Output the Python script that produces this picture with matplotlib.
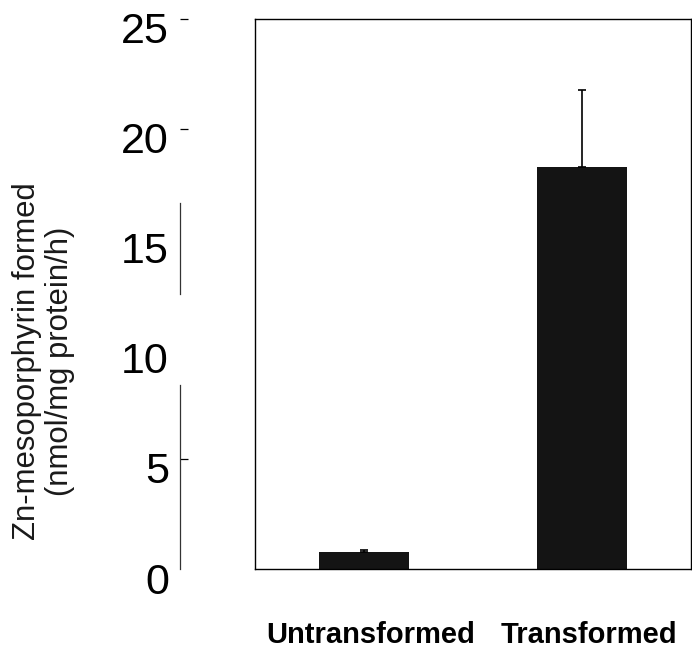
import numpy as np
import matplotlib
matplotlib.use("Agg")
import matplotlib.pyplot as plt
import matplotlib.transforms as mtransforms

# data
groups = ["Untransformed", "Transformed"]
values = [0.75, 18.25]
errors = [0.1, 3.5]
y_ticks = [0, 5, 10, 15, 20, 25]
# pieces of the y axis line that survive in the scan (data units)
axis_pieces = [(0.0, 8.35), (12.5, 16.65)]

plt.rcParams["font.family"] = ["Liberation Sans", "DejaVu Sans"]

fig = plt.figure(figsize=(6.92, 6.52), dpi=100)
ax = fig.add_axes([0.3685, 0.1273, 0.6301, 0.8436])

x = np.arange(len(groups))
ax.bar(x, values, width=0.41, color="#141414", zorder=2)
ax.errorbar(x, values, yerr=[np.zeros(len(errors)), errors], fmt="none",
            ecolor="black", elinewidth=1.2, capsize=3, capthick=1.2, zorder=3)

ax.set_xlim(-0.5, 1.5)
ax.set_ylim(0, 25)

# box around the plot area
for s in ["top", "right", "bottom"]:
    ax.spines[s].set_linewidth(1.0)
ax.axvline(-0.5, color="black", lw=1.0, clip_on=False)

# detached y axis, moved out to the left
ax.spines["left"].set_position(("outward", 54))
ax.spines["left"].set_visible(False)
offset = mtransforms.ScaledTranslation(-54 / 72, 0, fig.dpi_scale_trans)
for lo, hi in axis_pieces:
    ax.plot([0, 0], [lo, hi], color="#333333", lw=0.9, clip_on=False,
            transform=ax.get_yaxis_transform() + offset)

ax.set_yticks(y_ticks)
ax.tick_params(axis="y", direction="in", length=6, width=0.9, pad=8,
               labelsize=31)
for t, v in zip(ax.yaxis.get_major_ticks(), y_ticks):
    if v in (0, 10, 15):
        t.tick1line.set_visible(False)
down = mtransforms.ScaledTranslation(0, -9 / 100, fig.dpi_scale_trans)
for lab in ax.get_yticklabels():
    lab.set_transform(lab.get_transform() + down)

ax.set_xticks(x + 0.03)
ax.set_xticklabels(groups, fontsize=21, fontweight="bold")
ax.tick_params(axis="x", length=0, pad=37.5)

ax.set_ylabel("Zn-mesoporphyrin formed\n(nmol/mg protein/h)", fontsize=22.4,
              color="#1a1a1a", linespacing=1.15)
ax.yaxis.set_label_coords(-0.412, 0.378)

fig.savefig("out.png", dpi=100)
